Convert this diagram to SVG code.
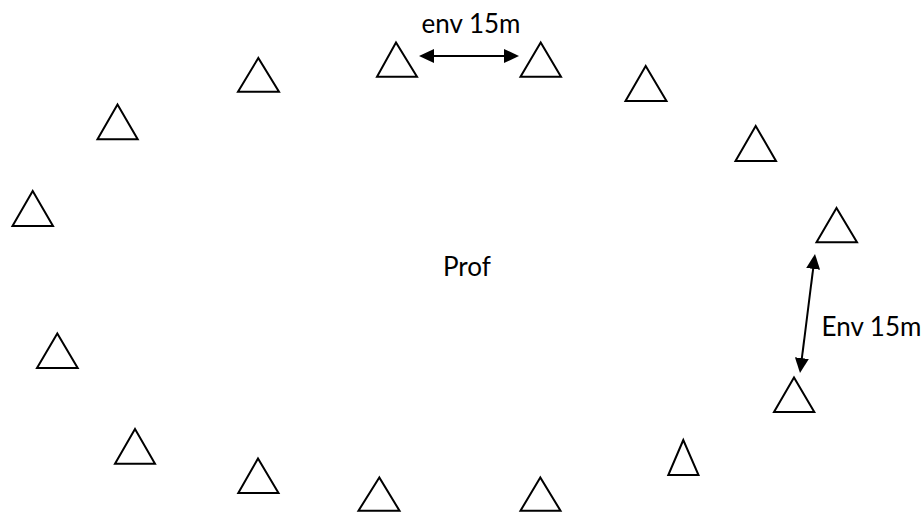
<svg xmlns="http://www.w3.org/2000/svg" width="923" height="513" viewBox="0 0 923 513">
<style>
.tri{fill:none;stroke:#000;stroke-width:2;stroke-linejoin:miter}
.lbl{font-family:Lato,"Liberation Sans",sans-serif;font-size:26px;fill:#000}
.arr{stroke:#000;stroke-width:2;fill:none;marker-start:url(#head);marker-end:url(#head)}
</style>
<defs>
<marker id="head" markerUnits="userSpaceOnUse" markerWidth="16" markerHeight="15" refX="5" refY="7" orient="auto-start-reverse" viewBox="0 0 16 15">
<path d="M0,0 L15,7 L0,14 z" fill="#000"/>
</marker>
</defs>
<rect width="923" height="513" fill="#fff"/>
<g id="cone1"><polygon class="tri" points="258.3,58 238,91.7 279,91.7"/></g>
<g id="cone2"><polygon class="tri" points="396,42.5 377,76.7 417,76.7"/></g>
<g id="cone3"><polygon class="tri" points="540.7,42.5 520.5,76.7 561,76.7"/></g>
<g id="cone4"><polygon class="tri" points="645.7,66 625.5,101 666.5,101"/></g>
<g id="cone5"><polygon class="tri" points="755.7,126 735.5,161 776,161"/></g>
<g id="cone6"><polygon class="tri" points="836.5,208 816.5,242.3 857,242.3"/></g>
<g id="cone7"><polygon class="tri" points="794,377.5 774,412 814.3,412"/></g>
<g id="cone8"><polygon class="tri" points="683.3,440 668.3,475 698.5,475"/></g>
<g id="cone9"><polygon class="tri" points="540.3,477.5 520.5,510.7 560.5,510.7"/></g>
<g id="cone10"><polygon class="tri" points="379.3,477.5 358.5,510.7 399.5,510.7"/></g>
<g id="cone11"><polygon class="tri" points="258,458.5 238.3,493 278.5,493"/></g>
<g id="cone12"><polygon class="tri" points="135,429 115,463.7 155,463.7"/></g>
<g id="cone13"><polygon class="tri" points="57.3,333.5 37,368 77.7,368"/></g>
<g id="cone14"><polygon class="tri" points="32.7,191 12.5,226 53,226"/></g>
<g id="cone15"><polygon class="tri" points="117.5,104.5 97.5,139.3 137.7,139.3"/></g>
<g id="prof"><text class="lbl" x="443" y="276">Prof</text></g>
<g id="connectors">
<line class="arr" x1="429" y1="56" x2="509" y2="56"/>
<line class="arr" x1="813.75" y1="263.9" x2="801.25" y2="363.1"/>
</g>
<g id="labels">
<text class="lbl" x="421.5" y="33">env 15m</text>
<text class="lbl" x="821.5" y="336">Env 15m</text>
</g>
</svg>
